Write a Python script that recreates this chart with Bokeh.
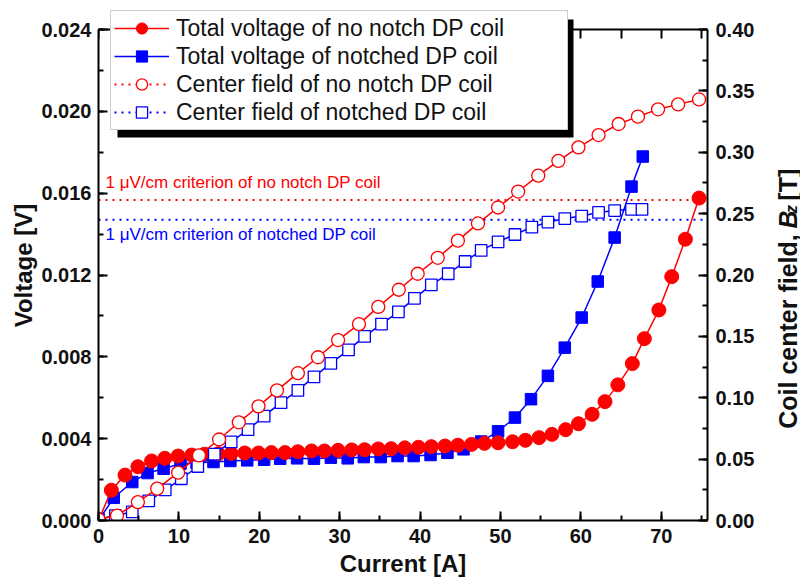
import math
from bokeh.plotting import figure
from bokeh.layouts import row
from bokeh.models import (Range1d, LinearAxis, SingleIntervalTicker, FixedTicker,
                          PrintfTickFormatter, Legend, LegendItem, Label, BoxAnnotation)
from bokeh.embed import file_html
from bokeh.resources import INLINE

# ---------------- data ----------------
current_nonotch = [0, 1.6, 3.3, 4.9, 6.6, 8.25, 9.9, 11.6, 13.2, 14.9, 16.5, 18.2, 19.9, 21.5,
                   23.2, 24.8, 26.5, 28.1, 29.8, 31.5, 33.1, 34.8, 36.4, 38.1, 39.8, 41.4, 43.1,
                   44.7, 46.4, 48.0, 49.7, 51.5, 53.1, 54.8, 56.4, 58.1, 59.7, 61.4, 63.0, 64.6,
                   66.4, 67.9, 69.7, 71.3, 73.0, 74.7]
voltage_nonotch = [0, 0.00148, 0.00222, 0.00263, 0.00291, 0.00304, 0.00315, 0.00320, 0.00324,
                   0.00326, 0.00328, 0.00330, 0.00330, 0.00332, 0.00332, 0.00336, 0.00340,
                   0.00340, 0.00343, 0.00345, 0.00346, 0.00350, 0.00351, 0.00355, 0.00358,
                   0.00361, 0.00364, 0.00368, 0.00372, 0.00377, 0.00380, 0.00385, 0.00392,
                   0.00405, 0.00421, 0.00444, 0.00473, 0.00519, 0.00581, 0.00663, 0.00767,
                   0.00889, 0.01029, 0.01192, 0.01375, 0.01576]

current_notch = [0, 1.9, 4.2, 6.1, 8.1, 10.2, 12.2, 14.3, 16.4, 18.5, 20.6, 22.6, 24.7, 26.8,
                 28.9, 31.0, 33.0, 35.1, 37.2, 39.2, 41.3, 43.4, 45.4, 47.6, 49.7, 51.8, 53.8,
                 55.9, 58.0, 60.1, 62.1, 64.2, 66.3, 67.7]
voltage_notch = [0, 0.00111, 0.00188, 0.00232, 0.00253, 0.00278, 0.00282, 0.00286, 0.00291,
                 0.00294, 0.00297, 0.00302, 0.00304, 0.00302, 0.00307, 0.00304, 0.00310,
                 0.00310, 0.00315, 0.00315, 0.00320, 0.00331, 0.00348, 0.00386, 0.00436,
                 0.00503, 0.00593, 0.00707, 0.00845, 0.00992, 0.01168, 0.01383, 0.01632, 0.01779]

field_current_nonotch = [0, 2.3, 4.9, 7.3, 9.9, 12.5, 15.0, 17.45, 19.9, 22.2, 24.8, 27.3, 29.8,
                         32.4, 34.8, 37.35, 39.7, 42.2, 44.7, 47.2, 49.7, 52.2, 54.7, 57.2, 59.7,
                         62.2, 64.7, 67.1, 69.6, 72.1, 74.7]
field_nonotch = [0.001, 0.004, 0.015, 0.026, 0.039, 0.053, 0.066, 0.080, 0.093, 0.106, 0.120,
                 0.133, 0.147, 0.160, 0.174, 0.188, 0.201, 0.214, 0.228, 0.242, 0.255, 0.268,
                 0.281, 0.293, 0.304, 0.314, 0.323, 0.329, 0.335, 0.339, 0.343]

field_current_notch = [0, 2.1, 4.2, 6.25, 8.3, 10.3, 12.35, 14.4, 16.5, 18.6, 20.6, 22.7, 24.8,
                       26.8, 28.9, 31.1, 33.1, 35.2, 37.3, 39.3, 41.4, 43.5, 45.6, 47.6, 49.7,
                       51.8, 53.9, 55.9, 58.0, 60.1, 62.2, 64.2, 66.3, 67.6]
field_notch = [0.001, 0.004, 0.007, 0.016, 0.025, 0.034, 0.044, 0.054, 0.064, 0.074, 0.085,
               0.096, 0.106, 0.117, 0.128, 0.139, 0.150, 0.160, 0.170, 0.181, 0.192, 0.201,
               0.211, 0.220, 0.227, 0.233, 0.239, 0.243, 0.246, 0.248, 0.251, 0.2525, 0.2535,
               0.2535]

criterion_nonotch = 0.01566
criterion_notch = 0.0147

legend_labels = ["Total voltage of no notch DP coil", "Total voltage of notched DP coil",
                 "Center field of no notch DP coil", "Center field of notched DP coil"]
criterion_labels = ["1 \u03bcV/cm criterion of no notch DP coil",
                    "1 \u03bcV/cm criterion of notched DP coil"]

X_MAX = 75.75
V_MAX = 0.024
B_MAX = 0.40

# ---------------- layout (pixels) ----------------
W_MAIN, W_SIDE, H = 770, 30, 580
FL, FR, FT, FB = 98, 707, 10, 520      # frame edges
AX_TOP = 29                            # pixel row of V_MAX (top axis)
FW = FR - FL
V_TOP = V_MAX * (FB - FT) / (FB - AX_TOP)
B_TOP = V_TOP / V_MAX * B_MAX

RED = "#ff0000"
BLUE = "#0000ff"
INK = "#111111"
FONT = "Liberation Sans"


def sx(px):
    return (px - FL) / FW * X_MAX


def sy(py):
    return (FB - py) / (FB - AX_TOP) * V_MAX


p = figure(width=W_MAIN, height=H, output_backend="svg", toolbar_location=None,
           x_range=Range1d(0, X_MAX), y_range=Range1d(0, V_TOP),
           x_axis_location=None, y_axis_location=None,
           min_border_left=FL, min_border_right=W_MAIN - FR, min_border_top=FT,
           min_border_bottom=H - FB)
p.extra_y_ranges = {"field": Range1d(0, B_TOP)}
p.xgrid.visible = False
p.ygrid.visible = False
p.outline_line_color = None
p.background_fill_color = "white"
p.border_fill_color = "white"


def style_axis(ax, major_in=9, minor_in=5):
    ax.axis_line_width = 2
    ax.axis_line_color = "black"
    ax.major_tick_line_width = 2
    ax.minor_tick_line_width = 2
    ax.major_tick_line_color = "black"
    ax.minor_tick_line_color = "black"
    ax.major_tick_in = major_in
    ax.major_tick_out = 0
    ax.minor_tick_in = minor_in
    ax.minor_tick_out = 0
    ax.major_label_text_font = FONT
    ax.major_label_text_font_style = "bold"
    ax.major_label_text_font_size = "20px"
    ax.major_label_text_color = INK
    ax.axis_label_text_font = FONT
    ax.axis_label_text_font_style = "bold"
    ax.axis_label_text_font_size = "24px"
    ax.axis_label_text_color = INK


EPS = 1e-6
left = LinearAxis(ticker=SingleIntervalTicker(interval=0.004, num_minor_ticks=2),
                  formatter=PrintfTickFormatter(format="%.3f"),
                  bounds=(0, V_MAX * (1 + EPS)), axis_label="Voltage [V]")
style_axis(left)
left.major_label_standoff = 7
left.axis_label_standoff = 1
p.add_layout(left, "left")

right = LinearAxis(y_range_name="field",
                   ticker=SingleIntervalTicker(interval=0.05, num_minor_ticks=2),
                   formatter=PrintfTickFormatter(format="%.2f"),
                   bounds=(0, B_MAX * (1 + EPS)))
style_axis(right)
right.major_label_standoff = 8
p.add_layout(right, "right")

bottom = LinearAxis(ticker=SingleIntervalTicker(interval=10, num_minor_ticks=2),
                    axis_label="Current [A]")
style_axis(bottom)
bottom.major_label_standoff = 8
bottom.axis_label_standoff = 4
p.add_layout(bottom, "below")

top = LinearAxis(ticker=FixedTicker(ticks=[], minor_ticks=list(range(0, 80, 5))),
                 fixed_location=V_MAX)
style_axis(top, major_in=9, minor_in=9)
p.add_layout(top, "above")

# ---------------- series ----------------
crit_red = p.line([0, X_MAX], [criterion_nonotch, criterion_nonotch], line_color=RED,
                  line_width=2, line_dash="2 5")
crit_blue = p.line([0, X_MAX], [criterion_notch, criterion_notch], line_color=BLUE,
                   line_width=2, line_dash="2 5")

bl = p.line(current_notch, voltage_notch, line_color=BLUE, line_width=1.5)
bp = p.scatter(current_notch, voltage_notch, marker="square", size=11.5,
               fill_color=BLUE, line_color=BLUE)
rl = p.line(current_nonotch, voltage_nonotch, line_color=RED, line_width=1.5)
rp = p.scatter(current_nonotch, voltage_nonotch, marker="circle", size=14,
               fill_color=RED, line_color=RED)

sql = p.line(field_current_notch, field_notch, y_range_name="field",
             line_color=BLUE, line_width=1.5)
sqp = p.scatter(field_current_notch, field_notch, y_range_name="field", marker="square",
                size=11.5, fill_color="white", line_color=BLUE, line_width=1.3)
cil = p.line(field_current_nonotch, field_nonotch, y_range_name="field",
             line_color=RED, line_width=1.5)
cip = p.scatter(field_current_nonotch, field_nonotch, y_range_name="field", marker="circle",
                size=13, fill_color="white", line_color=RED, line_width=1.3)

# ---------------- criterion texts ----------------
for txt, col, cy in [(criterion_labels[0], RED, 182), (criterion_labels[1], BLUE, 234)]:
    p.add_layout(Label(x=sx(105), y=sy(cy), text=txt, text_color=col, text_font=FONT,
                       text_font_size="17px", text_baseline="middle", text_align="left"))

# ---------------- legend (with shadow) ----------------
PAD, GW, GH, STAND, LW = 3, 55, 28, 7, 388
LEG_LEFT, LEG_TOP = 110, 12
leg_w = 2 * PAD + GW + STAND + LW
leg_h = 2 * PAD + 4 * GH
SH = 7
shadow = BoxAnnotation(left=sx(LEG_LEFT + SH), right=sx(LEG_LEFT + leg_w + SH),
                       top=sy(LEG_TOP + SH), bottom=sy(LEG_TOP + leg_h + SH),
                       fill_color="black", fill_alpha=1, line_color=None)
p.add_layout(shadow)

legend = Legend(items=[
    LegendItem(label=legend_labels[0], renderers=[rl, rp]),
    LegendItem(label=legend_labels[1], renderers=[bl, bp]),
    LegendItem(label=legend_labels[2], renderers=[crit_red, cip]),
    LegendItem(label=legend_labels[3], renderers=[crit_blue, sqp]),
], location=(LEG_LEFT - FL, FB - (LEG_TOP + leg_h)), orientation="vertical", margin=0,
    padding=PAD, spacing=0, glyph_width=GW, glyph_height=GH, label_height=GH, label_width=LW,
    label_standoff=STAND, label_text_font=FONT, label_text_font_size="23px",
    label_text_color=INK, border_line_color="#9a9a9a", border_line_width=1,
    background_fill_color="white", background_fill_alpha=1)
p.add_layout(legend)

# ---------------- right title in a narrow side figure ----------------
side = figure(width=W_SIDE, height=H, output_backend="svg", toolbar_location=None,
              x_range=Range1d(0, W_SIDE), y_range=Range1d(0, H), min_border=0,
              x_axis_location=None, y_axis_location=None)
side.xgrid.visible = False
side.ygrid.visible = False
side.outline_line_color = None
side.background_fill_color = "white"
side.border_fill_color = "white"

TS = 25
BASE_X = 787 - W_MAIN          # baseline column inside the side figure
J = 248                        # page row where "B" starts (text reads upward)
w_space, w_B, w_z = 0.26 * TS, 0.68 * TS, 0.33 * TS
pieces = [("Coil center field,", "bold", TS, 0, J + w_space, "right"),
          ("B", "bold italic", TS, 0, J, "left"),
          ("z", "bold italic", 17, 4, J - w_B, "left"),
          ("[T]", "bold", TS, 0, J - w_B - w_z - w_space, "left")]
for txt, style, fs, dx, py, align in pieces:
    side.add_layout(Label(x=BASE_X + dx, y=H - py, text=txt, text_font=FONT,
                          text_font_style=style, text_font_size=f"{fs}px", text_align=align,
                          text_baseline="alphabetic", angle=math.pi / 2, text_color=INK))

layout = row(p, side)
open("out.html", "w").write(file_html(layout, INLINE))
